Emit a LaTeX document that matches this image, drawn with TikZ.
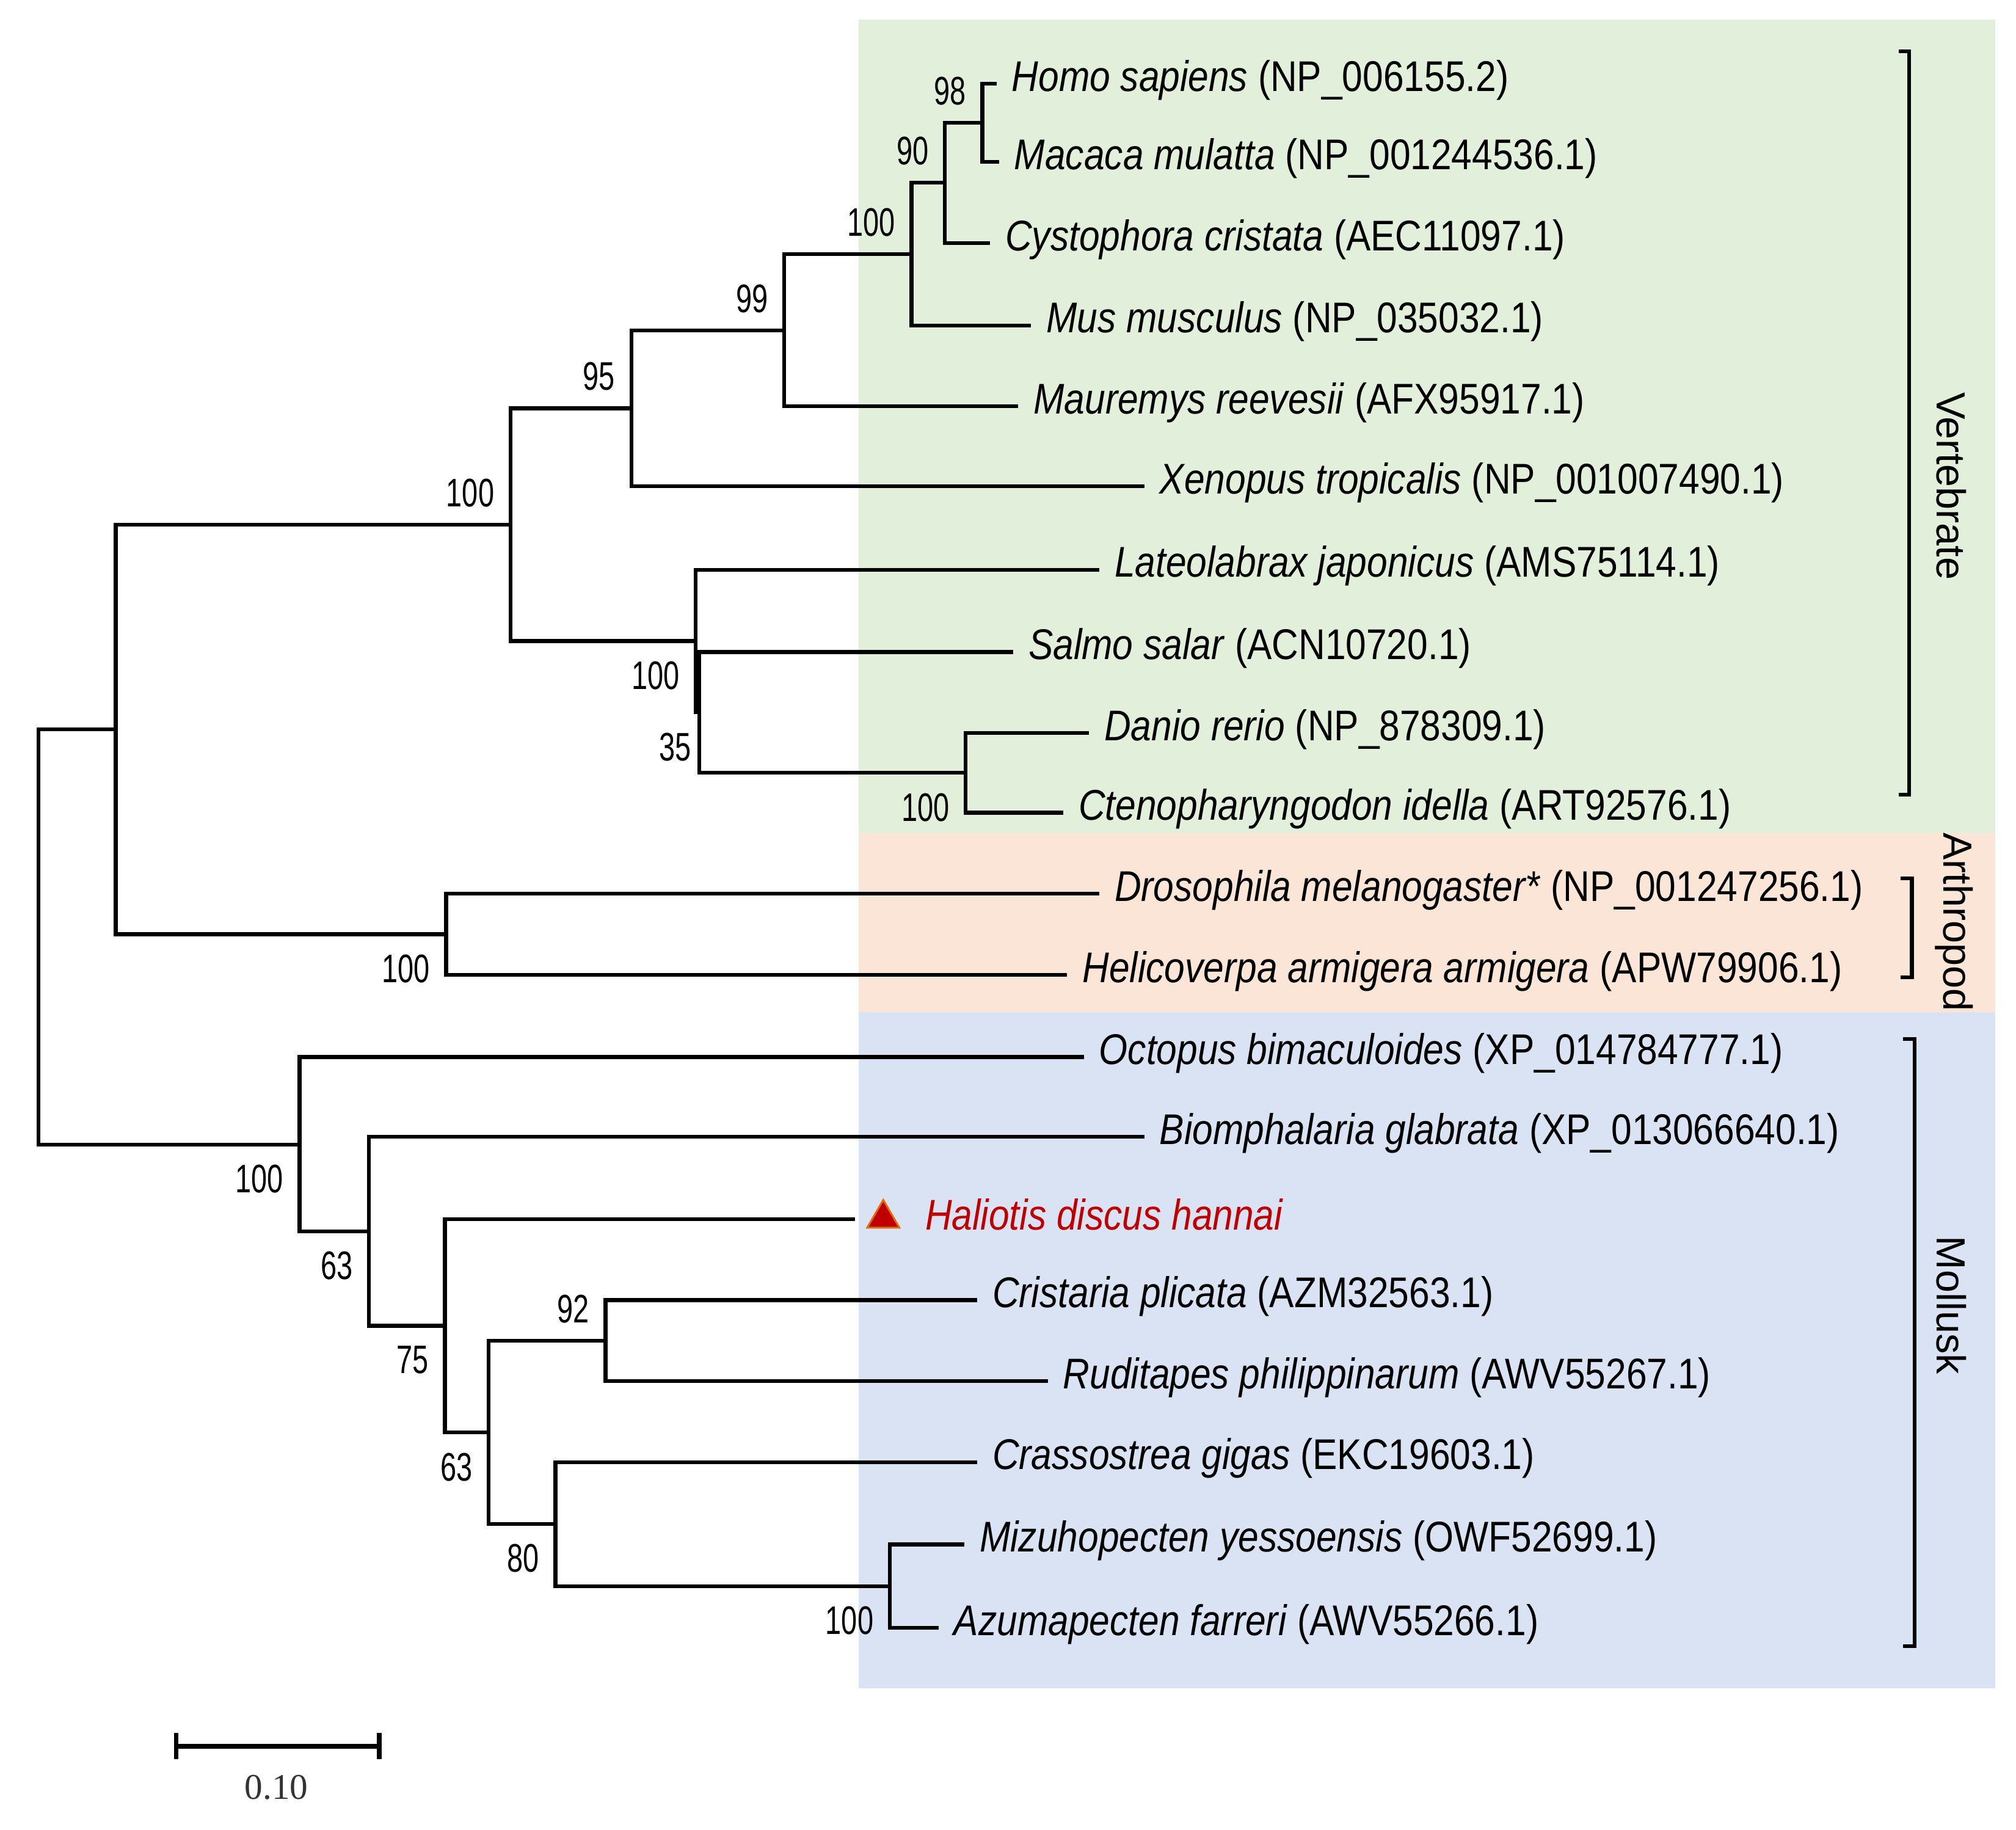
\documentclass[tikz,border=0pt]{standalone}
\usepackage{fontspec}
\setmainfont{Liberation Sans}
\newfontfamily\taxfont[FakeStretch=0.86]{Liberation Sans}
\newfontfamily\bootfont[FakeStretch=0.72]{Liberation Sans}
\newfontfamily\barfont{Liberation Serif}
\usetikzlibrary{positioning, calc, shapes.geometric}
\definecolor{vertgreen}{HTML}{E2EFDA}
\definecolor{arthpeach}{HTML}{FBE5D6}
\definecolor{mollblue}{HTML}{DAE3F3}
\definecolor{halired}{HTML}{C00000}
\definecolor{haliedge}{HTML}{E26B0A}

\begin{document}
\begin{tikzpicture}[x=0.01cm, y=-0.01cm,
		branch/.style={line width=0.85pt},
		taxon/.style={inner sep=0pt, yshift=0.8pt, font=\taxfont\fontsize{9.5}{11}\selectfont},
		bsabove/.style={anchor=south east, inner sep=0pt, xshift=-3.4pt, yshift=3.7pt, font=\bootfont\fontsize{8.8}{10}\selectfont},
		bsbelow/.style={anchor=north east, inner sep=0pt, xshift=-3.4pt, yshift=-4.3pt, font=\bootfont\fontsize{8.8}{10}\selectfont},
		clade/.style={rotate=-90, inner sep=0pt, font=\fontsize{9}{10}\selectfont},
		bracket/.style={line width=0.85pt}
	]
		\useasboundingbox (0,0) rectangle (1568,1423);
		
		% group backgrounds
		\fill[vertgreen] (668,15) rectangle (1552,648);
		\fill[arthpeach] (668,648) rectangle (1552,787);
		\fill[mollblue] (668,787) rectangle (1552,1313);
		
		% tips
		\coordinate (Homo) at (775,65);
		\coordinate (Macaca) at (777,126);
		\coordinate (Cysto) at (770,189);
		\coordinate (Mus) at (802,253);
		\coordinate (Maur) at (792,316);
		\coordinate (Xeno) at (890,378);
		\coordinate (Lateo) at (855,443);
		\coordinate (Salmo) at (788,507);
		\coordinate (Danio) at (847,570);
		\coordinate (Cteno) at (827,632);
		\coordinate (Droso) at (855,695);
		\coordinate (Helico) at (830,758);
		\coordinate (Octo) at (843,822);
		\coordinate (Biom) at (890,884);
		\coordinate (Hali) at (665,948);
		\coordinate (Crist) at (760,1011);
		\coordinate (Rudi) at (815,1074);
		\coordinate (Crass) at (760,1137);
		\coordinate (Mizu) at (750,1201);
		\coordinate (Azuma) at (730,1266);
		
		% inner nodes
		\coordinate (N98) at (764,95.5);
		\coordinate (N90) at (735,142);
		\coordinate (NMam) at (709,197.5);
		\coordinate (N99) at (610,257);
		\coordinate (N95) at (491,317.5);
		\coordinate (NCyp) at (751,601);
		\coordinate (N35) at (544,554);
		\coordinate (NFish) at (541,498.5);
		\coordinate (NVert) at (397,408);
		\coordinate (NArth) at (347,726.5);
		\coordinate (NBila) at (90,567);
		\coordinate (NPect) at (692,1233.5);
		\coordinate (N80) at (432,1185);
		\coordinate (N92) at (471,1042.5);
		\coordinate (NBiv) at (380,1114);
		\coordinate (N75) at (346,1031);
		\coordinate (N63) at (287,957.5);
		\coordinate (NMoll) at (233,890);
		\coordinate (Root) at (30,728.5);
		
		% branches
		\draw[branch] (N98) |- (Homo) (N98) |- (Macaca);
		\draw[branch] (N90) |- (N98) (N90) |- (Cysto);
		\draw[branch] (NMam) |- (N90) (NMam) |- (Mus);
		\draw[branch] (N99) |- (NMam) (N99) |- (Maur);
		\draw[branch] (N95) |- (N99) (N95) |- (Xeno);
		\draw[branch] (NCyp) |- (Danio) (NCyp) |- (Cteno);
		\draw[branch] (N35) |- (Salmo) (N35) |- (NCyp);
		\draw[branch] (NFish) |- (Lateo) (NFish) |- (N35);
		\draw[branch] (NVert) |- (N95) (NVert) |- (NFish);
		\draw[branch] (NArth) |- (Droso) (NArth) |- (Helico);
		\draw[branch] (NBila) |- (NVert) (NBila) |- (NArth);
		\draw[branch] (NPect) |- (Mizu) (NPect) |- (Azuma);
		\draw[branch] (N80) |- (Crass) (N80) |- (NPect);
		\draw[branch] (N92) |- (Crist) (N92) |- (Rudi);
		\draw[branch] (NBiv) |- (N92) (NBiv) |- (N80);
		\draw[branch] (N75) |- (Hali) (N75) |- (NBiv);
		\draw[branch] (N63) |- (Biom) (N63) |- (N75);
		\draw[branch] (NMoll) |- (Octo) (NMoll) |- (N63);
		\draw[branch] (Root) |- (NBila) (Root) |- (NMoll);
		
		% bootstrap values
		\node[bsabove] (B98) at (N98) {98};
		\node[bsabove] (B90) at (N90) {90};
		\node[bsabove] (BMam) at (NMam) {100};
		\node[bsabove] (B99) at (N99) {99};
		\node[bsabove] (B95) at (N95) {95};
		\node[bsabove] (BVert) at (NVert) {100};
		\node[bsbelow] (BFish) at (NFish) {100};
		\node[bsbelow, xshift=1.8pt] (B35) at (N35) {35};
		\node[bsbelow] (BCyp) at (NCyp) {100};
		\node[bsbelow] (BArth) at (NArth) {100};
		\node[bsbelow] (BMoll) at (NMoll) {100};
		\node[bsbelow] (B63) at (N63) {63};
		\node[bsbelow] (B75) at (N75) {75};
		\node[bsbelow] (BBiv) at (NBiv) {63};
		\node[bsabove] (B92) at (N92) {92};
		\node[bsbelow] (B80) at (N80) {80};
		\node[bsbelow] (BPect) at (NPect) {100};
		
		% taxa
		\node[taxon, right=3.2pt of Homo] (HomoL) {\textit{Homo sapiens} (NP\_006155.2)};
		\node[taxon, right=3.2pt of Macaca] (MacacaL) {\textit{Macaca mulatta} (NP\_001244536.1)};
		\node[taxon, right=3.2pt of Cysto] (CystoL) {\textit{Cystophora cristata} (AEC11097.1)};
		\node[taxon, right=3.2pt of Mus] (MusL) {\textit{Mus musculus} (NP\_035032.1)};
		\node[taxon, right=3.2pt of Maur] (MaurL) {\textit{Mauremys reevesii} (AFX95917.1)};
		\node[taxon, right=3.2pt of Xeno] (XenoL) {\textit{Xenopus tropicalis} (NP\_001007490.1)};
		\node[taxon, right=3.2pt of Lateo] (LateoL) {\textit{Lateolabrax japonicus} (AMS75114.1)};
		\node[taxon, right=3.2pt of Salmo] (SalmoL) {\textit{Salmo salar} (ACN10720.1)};
		\node[taxon, right=3.2pt of Danio] (DanioL) {\textit{Danio rerio} (NP\_878309.1)};
		\node[taxon, right=3.2pt of Cteno] (CtenoL) {\textit{Ctenopharyngodon idella} (ART92576.1)};
		\node[taxon, right=3.2pt of Droso] (DrosoL) {\textit{Drosophila melanogaster*} (NP\_001247256.1)};
		\node[taxon, right=3.2pt of Helico] (HelicoL) {\textit{Helicoverpa armigera armigera} (APW79906.1)};
		\node[taxon, right=3.2pt of Octo] (OctoL) {\textit{Octopus bimaculoides} (XP\_014784777.1)};
		\node[taxon, right=3.2pt of Biom] (BiomL) {\textit{Biomphalaria glabrata} (XP\_013066640.1)};
		\node[regular polygon, regular polygon sides=3, minimum size=8.2pt, inner sep=0pt, fill=halired, draw=haliedge, line width=0.4pt] (HaliMark) at (687,947.5) {};
		\node[taxon, text=halired, right=6.5pt of HaliMark] (HaliL) {\textit{Haliotis discus hannai}};
		\node[taxon, right=3.2pt of Crist] (CristL) {\textit{Cristaria plicata} (AZM32563.1)};
		\node[taxon, right=3.2pt of Rudi] (RudiL) {\textit{Ruditapes philippinarum} (AWV55267.1)};
		\node[taxon, right=3.2pt of Crass] (CrassL) {\textit{Crassostrea gigas} (EKC19603.1)};
		\node[taxon, right=3.2pt of Mizu] (MizuL) {\textit{Mizuhopecten yessoensis} (OWF52699.1)};
		\node[taxon, right=3.2pt of Azuma] (AzumaL) {\textit{Azumapecten farreri} (AWV55266.1)};
		
		% clade brackets
		\draw[bracket] (1477,40) -- (1485,40) -- (1485,618) -- (1477,618);
		\node[clade] (VertL) at (1518,378) {Vertebrate};
		\draw[bracket] (1478,683) -- (1487,683) -- (1487,760) -- (1478,760);
		\node[clade] (ArthL) at (1520,717) {Arthropod};
		\draw[bracket] (1480,808) -- (1489,808) -- (1489,1280) -- (1480,1280);
		\node[clade] (MollL) at (1518,1015) {Mollusk};
		
		% scale bar
		\coordinate (SBL) at (137,1358);
		\coordinate (SBR) at (295,1358);
		\draw[line width=1pt] (SBL) -- (SBR);
		\draw[line width=1pt] ([yshift=2.9pt]SBL) -- ([yshift=-2.9pt]SBL);
		\draw[line width=1pt] ([yshift=2.9pt]SBR) -- ([yshift=-2.9pt]SBR);
		\node[font=\barfont\fontsize{8}{9}\selectfont, text=black!80] (SBLabel) at (215,1390) {0.10};
	\end{tikzpicture}
\end{document}
